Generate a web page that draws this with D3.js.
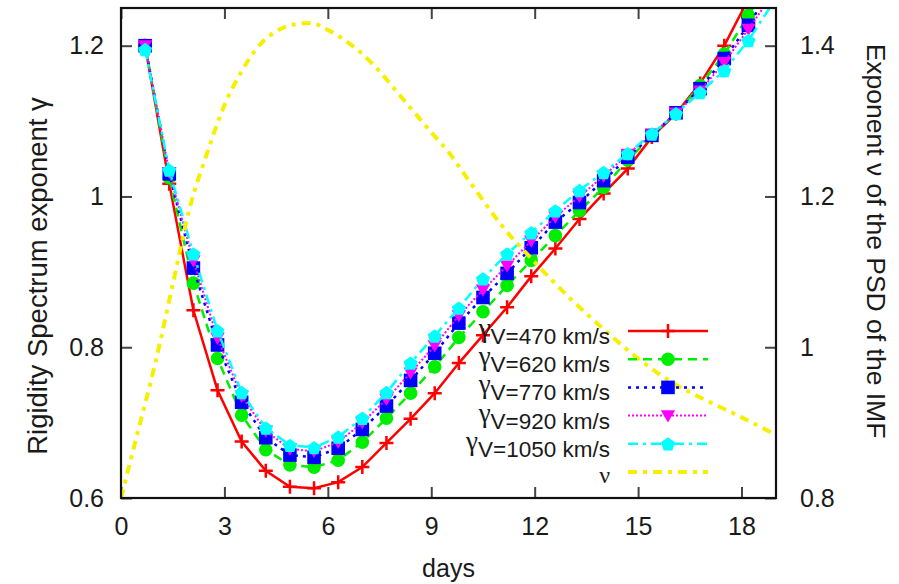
<!DOCTYPE html>
<html>
<head>
<meta charset="utf-8">
<script src="https://cdn.jsdelivr.net/npm/d3@7"></script>
<style>
  html, body { margin: 0; padding: 0; background: #fff; }
  svg { display: block; font-family: "Liberation Sans", Arial, Helvetica, sans-serif; }
</style>
</head>
<body>
<svg id="chart" width="899" height="584"></svg>
<script>
// ---------- data ----------
const days = [0.7, 1.4, 2.1, 2.8, 3.5, 4.2, 4.9, 5.6, 6.3, 7.0, 7.7, 8.4, 9.1, 9.8, 10.5,
              11.2, 11.9, 12.6, 13.3, 14.0, 14.7, 15.4, 16.1, 16.8, 17.5, 18.2, 18.9];

const gamma470  = [1.200, 1.017, 0.849, 0.743, 0.675, 0.636, 0.615, 0.613, 0.621, 0.641, 0.673, 0.705, 0.739, 0.779,
                   0.816, 0.853, 0.894, 0.931, 0.970, 1.004, 1.037, 1.079, 1.110, 1.150, 1.200, 1.262, 1.330];
const gamma620  = [1.200, 1.025, 0.885, 0.785, 0.710, 0.664, 0.644, 0.641, 0.650, 0.674, 0.706, 0.739, 0.774, 0.813,
                   0.847, 0.882, 0.915, 0.948, 0.981, 1.012, 1.048, 1.081, 1.110, 1.147, 1.189, 1.240, 1.295];
const gamma770  = [1.200, 1.030, 0.905, 0.803, 0.727, 0.680, 0.657, 0.654, 0.666, 0.691, 0.722, 0.756, 0.792, 0.832,
                   0.866, 0.898, 0.932, 0.966, 0.992, 1.021, 1.052, 1.081, 1.111, 1.143, 1.183, 1.227, 1.278];
const gamma920  = [1.200, 1.032, 0.915, 0.812, 0.735, 0.689, 0.665, 0.662, 0.674, 0.700, 0.731, 0.766, 0.802, 0.842,
                   0.876, 0.908, 0.941, 0.973, 1.000, 1.027, 1.056, 1.082, 1.111, 1.140, 1.178, 1.222, 1.268];
const gamma1050 = [1.195, 1.035, 0.924, 0.822, 0.740, 0.693, 0.670, 0.667, 0.681, 0.706, 0.740, 0.779, 0.815, 0.852,
                   0.891, 0.924, 0.952, 0.981, 1.008, 1.032, 1.057, 1.083, 1.110, 1.138, 1.167, 1.207, 1.256];

const nuDays   = [0, 0.5, 1, 1.5, 2, 2.5, 3, 3.5, 4, 4.5, 5, 5.5, 6, 6.5, 7, 7.5, 8, 8.5, 9, 9.5,
                  10, 10.5, 11, 12, 13, 14, 15, 16, 17, 18, 18.9];
const nuValues = [0.800, 0.890, 0.980, 1.083, 1.186, 1.258, 1.321, 1.366, 1.400, 1.419, 1.428, 1.430, 1.421, 1.407,
                  1.389, 1.366, 1.339, 1.312, 1.285, 1.259, 1.227, 1.195, 1.164, 1.113, 1.066, 1.024, 0.985, 0.953,
                  0.929, 0.907, 0.886];

const seriesNames = ["V=470 km/s", "V=620 km/s", "V=770 km/s", "V=920 km/s", "V=1050 km/s"];
const xTicks = [0, 3, 6, 9, 12, 15, 18];
const yLeftTicks = [0.6, 0.8, 1.0, 1.2];
const yRightTicks = [0.8, 1.0, 1.2, 1.4];

// ---------- layout ----------
const L = 121, R = 776, T = 8, B = 498;
const svg = d3.select("#chart");
const x = d3.scaleLinear().domain([0, 19]).range([L, R]);
const yL = d3.scaleLinear().domain([0.6, 1.25]).range([B, T]);
const yR = d3.scaleLinear().domain([0.8, 1.45]).range([B, T]);

const styles = [
  { color: "#ff0000", dash: null,          width: 2.5, marker: "plus" },
  { color: "#00ee00", dash: "9,6",         width: 2.5, marker: "circle" },
  { color: "#0000ff", dash: "3,5",         width: 2.5, marker: "square" },
  { color: "#ff00ff", dash: "2,2",         width: 2,   marker: "tri" },
  { color: "#00ffff", dash: "10,5,3,5",    width: 2.5, marker: "penta" }
];
const nuStyle = { color: "#f6f000", dash: "9,6,4,6", width: 4 };

const allGamma = [gamma470, gamma620, gamma770, gamma920, gamma1050];

svg.append("defs").append("clipPath").attr("id", "plotclip")
  .append("rect").attr("x", L).attr("y", T).attr("width", R - L).attr("height", B - T);

// ---------- axes ----------
const fontSize = 25;
const textColor = "#1a1a1a";
function styleAxis(g) {
  g.select(".domain").remove();
  g.selectAll(".tick line").attr("stroke", "#444").attr("stroke-width", 2);
  g.selectAll(".tick text").attr("font-size", fontSize).attr("fill", textColor)
    .attr("font-family", "'Liberation Sans', Arial, sans-serif");
}
const fmt = d => (d === 1 ? "1" : d3.format(".1f")(d));

svg.append("g").attr("transform", `translate(0,${B})`)
  .call(d3.axisBottom(x).tickValues(xTicks).tickSize(-11).tickPadding(19).tickFormat(d3.format("d")))
  .call(styleAxis);
svg.append("g").attr("transform", `translate(0,${T})`)
  .call(d3.axisTop(x).tickValues(xTicks).tickSize(-11).tickFormat(""))
  .call(styleAxis);
svg.append("g").attr("transform", `translate(${L},0)`)
  .call(d3.axisLeft(yL).tickValues(yLeftTicks).tickSize(-11).tickPadding(17).tickFormat(fmt))
  .call(styleAxis);
svg.append("g").attr("transform", `translate(${R},0)`)
  .call(d3.axisRight(yR).tickValues(yRightTicks).tickSize(-11).tickPadding(24).tickFormat(fmt))
  .call(styleAxis);

// ---------- markers ----------
function markerPath(type, s) {
  if (type === "plus") return `M${-s},0H${s}M0,${-s}V${s}`;
  if (type === "circle") return d3.symbol(d3.symbolCircle, Math.PI * s * s)();
  if (type === "square") return `M${-s},${-s}H${s}V${s}H${-s}Z`;
  if (type === "tri") return `M${-s},${-s * 0.75}H${s}L0,${s * 0.95}Z`;
  if (type === "penta") {
    const pts = d3.range(5).map(i => {
      const a = -Math.PI / 2 + i * 2 * Math.PI / 5;
      return [s * Math.cos(a), s * Math.sin(a) + 0.8];
    });
    return "M" + pts.map(p => p.join(",")).join("L") + "Z";
  }
}
const markerSize = { plus: 7, circle: 6.8, square: 6.8, tri: 7.2, penta: 7.4 };
function drawMarker(g, type, color, cx, cy) {
  const p = g.append("path").attr("d", markerPath(type, markerSize[type]))
    .attr("transform", `translate(${cx},${cy})`);
  if (type === "plus") p.attr("fill", "none").attr("stroke", color).attr("stroke-width", 2.5);
  else p.attr("fill", color).attr("stroke", "none");
}

// ---------- series ----------
const plot = svg.append("g").attr("clip-path", "url(#plotclip)");
const lineG = d3.line().x(d => x(d[0])).y(d => yL(d[1]));

allGamma.forEach((vals, i) => {
  const st = styles[i];
  const pts = days.map((d, j) => [d, vals[j]]);
  plot.append("path").datum(pts).attr("d", lineG)
    .attr("fill", "none").attr("stroke", st.color).attr("stroke-width", st.width)
    .attr("stroke-dasharray", st.dash);
  const mg = plot.append("g");
  pts.forEach(p => {
    if (p[1] <= 1.25) drawMarker(mg, st.marker, st.color, x(p[0]), yL(p[1]));
  });
});

const lineNu = d3.line().x(d => x(d[0])).y(d => yR(d[1])).curve(d3.curveMonotoneX);
plot.append("path").datum(nuDays.map((d, j) => [d, nuValues[j]])).attr("d", lineNu)
  .attr("fill", "none").attr("stroke", nuStyle.color).attr("stroke-width", nuStyle.width)
  .attr("stroke-dasharray", nuStyle.dash);

// ---------- frame ----------
svg.append("rect").attr("x", L).attr("y", T).attr("width", R - L).attr("height", B - T)
  .attr("fill", "none").attr("stroke", "#111").attr("stroke-width", 2.2);

// ---------- legend ----------
const legY0 = 331, legStep = 28.2, legX1 = 628, legX2 = 708, legTextX = 610;
const leg = svg.append("g");
seriesNames.forEach((name, i) => {
  const st = styles[i];
  const yy = legY0 + i * legStep;
  const t = leg.append("text").attr("x", legTextX).attr("y", yy + 6).attr("text-anchor", "end").attr("fill", textColor);
  t.append("tspan").attr("font-family", "'Liberation Serif', 'DejaVu Serif', serif").attr("font-size", 27).text("γ");
  t.append("tspan").attr("font-size", 22.5).attr("dy", 7).text(name);
  leg.append("line").attr("x1", legX1).attr("x2", legX2).attr("y1", yy).attr("y2", yy)
    .attr("stroke", st.color).attr("stroke-width", st.width).attr("stroke-dasharray", st.dash);
  drawMarker(leg, st.marker, st.color, (legX1 + legX2) / 2, yy);
});
{
  const yy = legY0 + 5 * legStep;
  leg.append("text").attr("x", legTextX).attr("y", yy + 11).attr("text-anchor", "end").attr("fill", textColor)
    .attr("font-family", "'Liberation Serif', 'DejaVu Serif', serif").attr("font-size", 24).text("ν");
  leg.append("line").attr("x1", legX1).attr("x2", legX2).attr("y1", yy).attr("y2", yy)
    .attr("stroke", nuStyle.color).attr("stroke-width", nuStyle.width).attr("stroke-dasharray", nuStyle.dash);
}

// ---------- axis titles ----------
svg.append("text").attr("x", (L + R) / 2).attr("y", 577).attr("text-anchor", "middle")
  .attr("font-size", fontSize).attr("fill", textColor).text("days");
svg.append("text").attr("transform", "translate(47,276) rotate(-90)").attr("text-anchor", "middle")
  .attr("font-size", 27.5).attr("fill", textColor).text("Rigidity Spectrum exponent γ");
svg.append("text").attr("transform", "translate(867,241) rotate(90)").attr("text-anchor", "middle")
  .attr("font-size", 26.5).attr("fill", textColor).text("Exponent ν of the PSD of the IMF");
</script>
</body>
</html>
